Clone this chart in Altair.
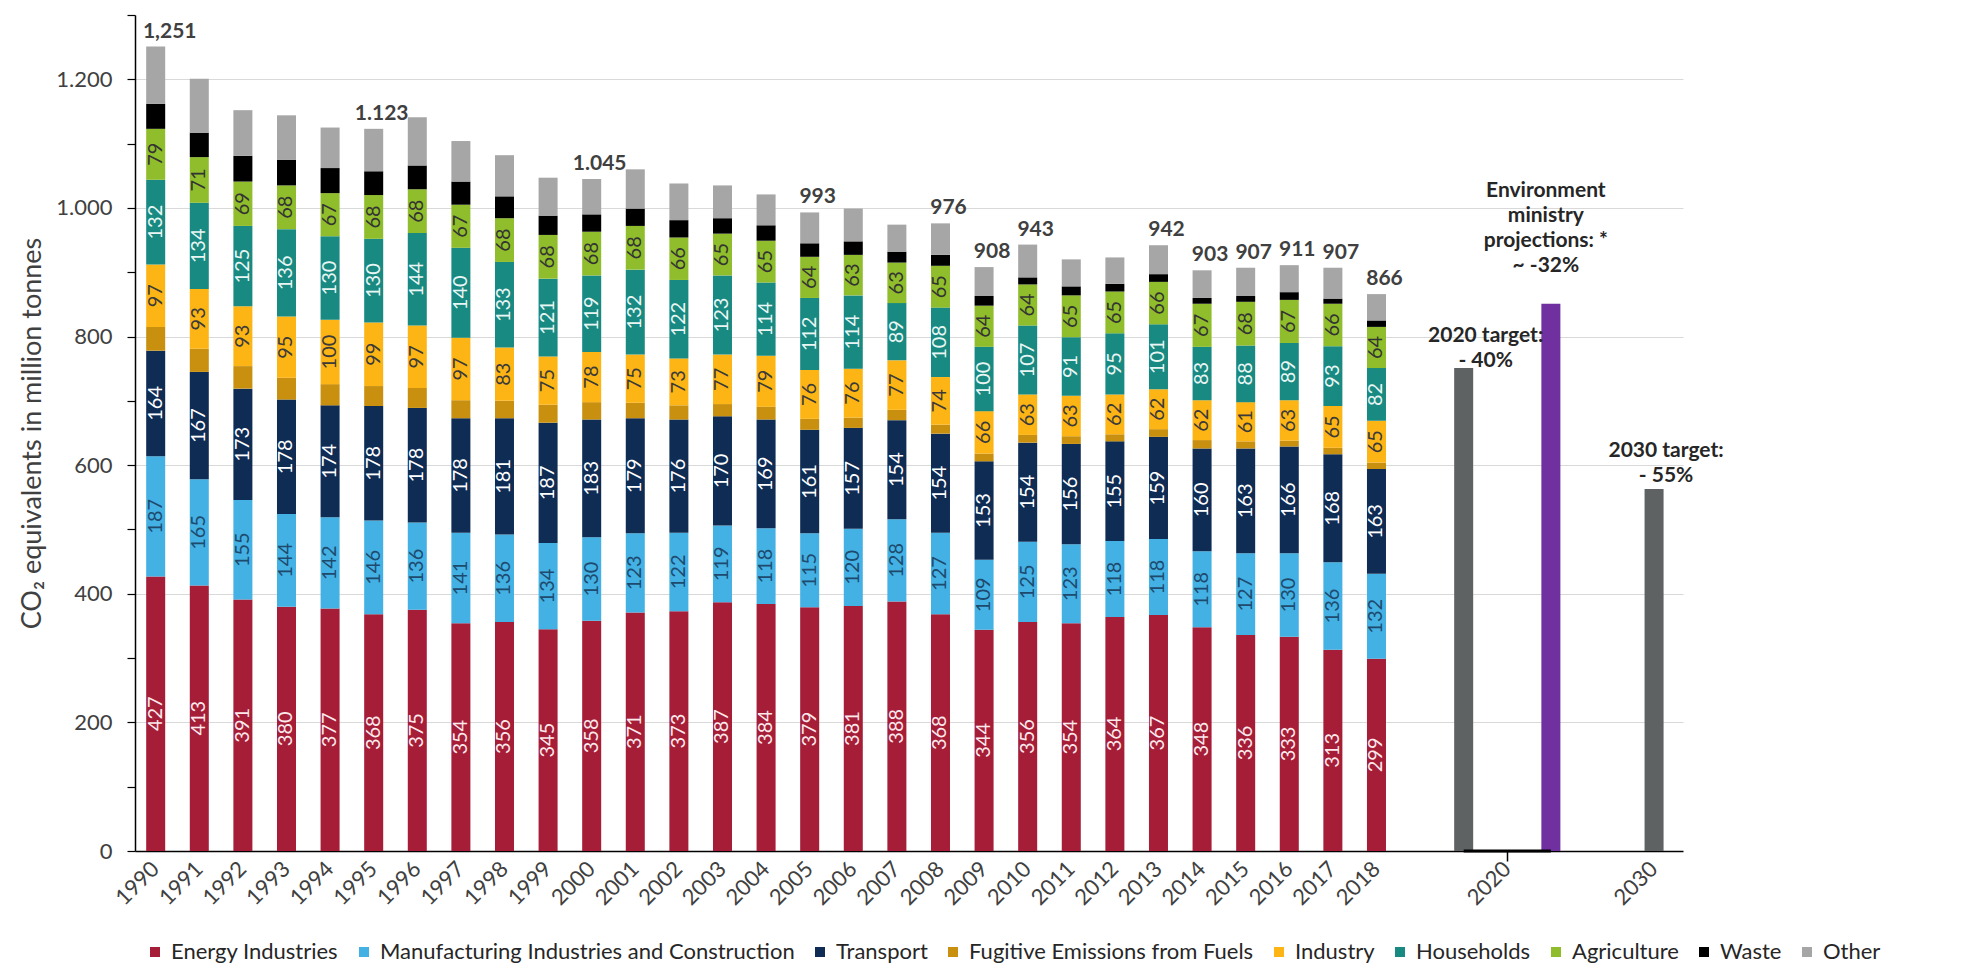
import altair as alt
import pandas as pd

years = [str(y) for y in range(1990, 2019)]
series = ["Energy Industries", "Manufacturing Industries and Construction", "Transport",
          "Fugitive Emissions from Fuels", "Industry", "Households", "Agriculture", "Waste", "Other"]

energy = [427, 413, 391, 380, 377, 368, 375, 354, 356, 345, 358, 371, 373, 387, 384, 379, 381, 388, 368, 344,
          356, 354, 364, 367, 348, 336, 333, 313, 299]
manufacturing = [187, 165, 155, 144, 142, 146, 136, 141, 136, 134, 130, 123, 122, 119, 118, 115, 120, 128, 127, 109,
                 125, 123, 118, 118, 118, 127, 130, 136, 132]
transport = [164, 167, 173, 178, 174, 178, 178, 178, 181, 187, 183, 179, 176, 170, 169, 161, 157, 154, 154, 153,
             154, 156, 155, 159, 160, 163, 166, 168, 163]
fugitive = [37, 36, 35, 34, 33, 31, 31, 28, 27, 28, 27, 24, 22, 19, 20, 17, 16, 16, 14, 12,
            12, 12, 11, 12, 13, 11, 9, 10, 10]
industry = [97, 93, 93, 95, 100, 99, 97, 97, 83, 75, 78, 75, 73, 77, 79, 76, 76, 77, 74, 66,
            63, 63, 62, 62, 62, 61, 63, 65, 65]
households = [132, 134, 125, 136, 130, 130, 144, 140, 133, 121, 119, 132, 122, 123, 114, 112, 114, 89, 108, 100,
              107, 91, 95, 101, 83, 88, 89, 93, 82]
agriculture = [79, 71, 69, 68, 67, 68, 68, 67, 68, 68, 68, 68, 66, 65, 65, 64, 63, 63, 65, 64,
               64, 65, 65, 66, 67, 68, 67, 66, 64]
waste = [39, 38, 40, 40, 39, 37, 37, 36, 34, 30, 27, 27, 27, 24, 24, 21, 21, 17, 17, 15,
         11, 14, 12, 12, 9, 9, 12, 8, 10]
other = [89, 84, 71, 69, 63, 66, 75, 63, 64, 59, 55, 61, 57, 51, 48, 48, 51, 42, 49, 45,
         51, 42, 41, 45, 43, 44, 42, 48, 41]

series_values = [energy, manufacturing, transport, fugitive, industry, households, agriculture, waste, other]

colors = ["#A51D37", "#43B1E4", "#0F2C55", "#C8900E", "#FDB515", "#198A82", "#8FBD2B", "#000000", "#A6A6A6"]
text_colors = ["#FBE9EC", "#1E4A6E", "#FFFFFF", "#333333", "#3A3A3A", "#EAF6F4", "#333333", "#FFFFFF", "#333333"]
labeled_series = ["Energy Industries", "Manufacturing Industries and Construction", "Transport",
                  "Industry", "Households", "Agriculture"]

total_label_years = ["1990", "1995", "2000", "2005", "2008", "2009", "2010", "2013", "2014", "2015", "2016", "2017", "2018"]
total_label_texts = ["1,251", "1.123", "1.045", "993", "976", "908", "943", "942", "903", "907", "911", "907", "866"]

target_cats = ["t2020", "p2020", "2030"]
target_kinds = ["target", "projection", "target"]
target_values = [751, 851, 563]
target_texts = ["2020 target:\n- 40%", "Environment\nministry\nprojections: *\n~ -32%", "2030 target:\n- 55%"]

x_domain = years + ["s1", "t2020", "2020", "p2020", "s2", "2030"]

# ---- tables built from the arrays ----
rows = []
for si, (name, vals) in enumerate(zip(series, series_values)):
    for y, v in zip(years, vals):
        rows.append({"year": y, "series": name, "value": v, "order": si})
df = pd.DataFrame(rows)

totals = {y: sum(vals[i] for vals in series_values) for i, y in enumerate(years)}
df_tot = pd.DataFrame({"year": total_label_years,
                       "value": [totals[y] for y in total_label_years],
                       "label": total_label_texts})

df_tgt = pd.DataFrame({"year": target_cats, "value": target_values, "kind": target_kinds, "label": target_texts})
df_rule = pd.DataFrame({"year": ["t2020"], "year2": ["p2020"], "value": [0]})

FONT = "Lato"
OFF2030 = 16

xscale = alt.Scale(domain=x_domain, paddingInner=0.564, paddingOuter=0.5345, align=0.24, round=False)
yscale = alt.Scale(domain=[0, 1300], nice=False, zero=True)

xaxis = alt.Axis(
    title=None, labelAngle=315, labelAlign="right", labelBaseline="middle", labelOverlap=False, labelBound=False,
    labelExpr="indexof(['s1','t2020','p2020','s2'], datum.value) < 0 ? datum.value : ''",
    labelOffset={"condition": {"test": "datum.value == '2030'", "value": OFF2030}, "value": 0},
    tickSize=10, tickWidth=1.5,
    tickColor={"condition": {"test": "datum.value == '2020'", "value": "#000000"},
               "value": "transparent"},
    domainColor="#000000", domainWidth=1.5, labelFontSize=22, labelColor="#404040", labelPadding=4,
    labelFont=FONT, grid=False,
)
yaxis = alt.Axis(
    values=list(range(0, 1301, 100)),
    labelExpr="datum.value % 200 == 0 ? replace(format(datum.value, ','), ',', '.') : ''",
    tickSize=8, tickColor="#000000", tickWidth=1.2, domainColor="#000000", domainWidth=1.5,
    gridColor="#D9D9D9", gridWidth=1,
    gridOpacity={"condition": {"test": "datum.value % 200 == 0 && datum.value > 0", "value": 1}, "value": 0},
    labelPadding=15, labelFontSize=22, labelColor="#404040", labelFont=FONT,
    title="CO₂ equivalents in million tonnes", titleFontSize=27, titleFontWeight="normal",
    titlePadding=9, titleColor="#404040", titleFont=FONT,
)

X = alt.X("year:N", scale=xscale, axis=xaxis)
Yv = alt.Y("value:Q", scale=yscale, axis=yaxis, stack=None)

bars = alt.Chart(df).mark_bar().encode(
    x=X,
    y=alt.Y("value:Q", scale=yscale, axis=yaxis, stack="zero"),
    color=alt.Color("series:N", scale=alt.Scale(domain=series, range=colors),
                    legend=alt.Legend(title=None, orient="none", legendX=9, legendY=926, direction="horizontal",
                                      columns=9, symbolType="square", symbolSize=100, symbolStrokeWidth=0,
                                      labelFontSize=22, labelColor="#262626", labelFont=FONT, labelLimit=0,
                                      columnPadding=14, labelOffset=5)),
    order=alt.Order("order:Q", sort="ascending"),
)

seg_text = alt.Chart(df).transform_stack(
    stack="value", groupby=["year"], as_=["y0", "y1"], sort=[alt.SortField("order", order="ascending")]
).transform_calculate(
    mid="(datum.y0 + datum.y1) / 2"
).transform_filter(
    alt.FieldOneOfPredicate(field="series", oneOf=labeled_series)
).mark_text(angle=270, fontSize=20, baseline="middle", align="center", font=FONT).encode(
    x=X,
    y=alt.Y("mid:Q", scale=yscale, axis=yaxis, stack=None),
    text=alt.Text("value:Q"),
    color=alt.Color("series:N", scale=alt.Scale(domain=series, range=text_colors), legend=None),
)


def totals_layer(pred, dx):
    return alt.Chart(df_tot).transform_filter(pred).mark_text(
        baseline="alphabetic", align="center", dy=-9, dx=dx, fontSize=21, fontWeight="bold",
        color="#404040", font=FONT
    ).encode(x=X, y=Yv, text="label:N")


tot_first = totals_layer(alt.datum.year == "1990", 14)
tot_rest = totals_layer(alt.datum.year != "1990", 8)

tgt_2020 = alt.Chart(df_tgt).transform_filter(alt.datum.year != "2030").mark_bar().encode(
    x=X, y=Yv,
    color=alt.condition(alt.datum.kind == "projection", alt.value("#7030A0"), alt.value("#5F6263")),
)
tgt_2030 = alt.Chart(df_tgt).transform_filter(alt.datum.year == "2030").mark_bar(
    xOffset=OFF2030, color="#5F6263"
).encode(x=X, y=Yv)


def annot(cat, dx, dy):
    return alt.Chart(df_tgt).transform_filter(alt.datum.year == cat).mark_text(
        baseline="bottom", align="center", dx=dx, dy=dy, fontSize=21, fontWeight="bold",
        color="#262626", font=FONT, lineBreak="\n", lineHeight=25,
    ).encode(x=X, y=Yv, text="label:N")


rule = alt.Chart(df_rule).mark_rule(color="#000000", strokeWidth=3).encode(
    x=X, x2="year2:N",
    y=alt.Y("value:Q", scale=yscale, axis=yaxis),
)

chart = alt.layer(
    bars, seg_text, tot_first, tot_rest, tgt_2020, tgt_2030, rule,
    annot("t2020", 22, -22), annot("p2020", -5, -103), annot("2030", 28, -28),
).resolve_scale(
    color="independent"
).properties(
    width=1548, height=836,
    autosize=alt.AutoSizeParams(type="none"),
    padding={"left": 127, "top": 7, "right": 200, "bottom": 113},
).configure(
    font=FONT
).configure_view(
    stroke=None
)

chart.save("out.html", embed_options={"renderer": "svg", "actions": False})
